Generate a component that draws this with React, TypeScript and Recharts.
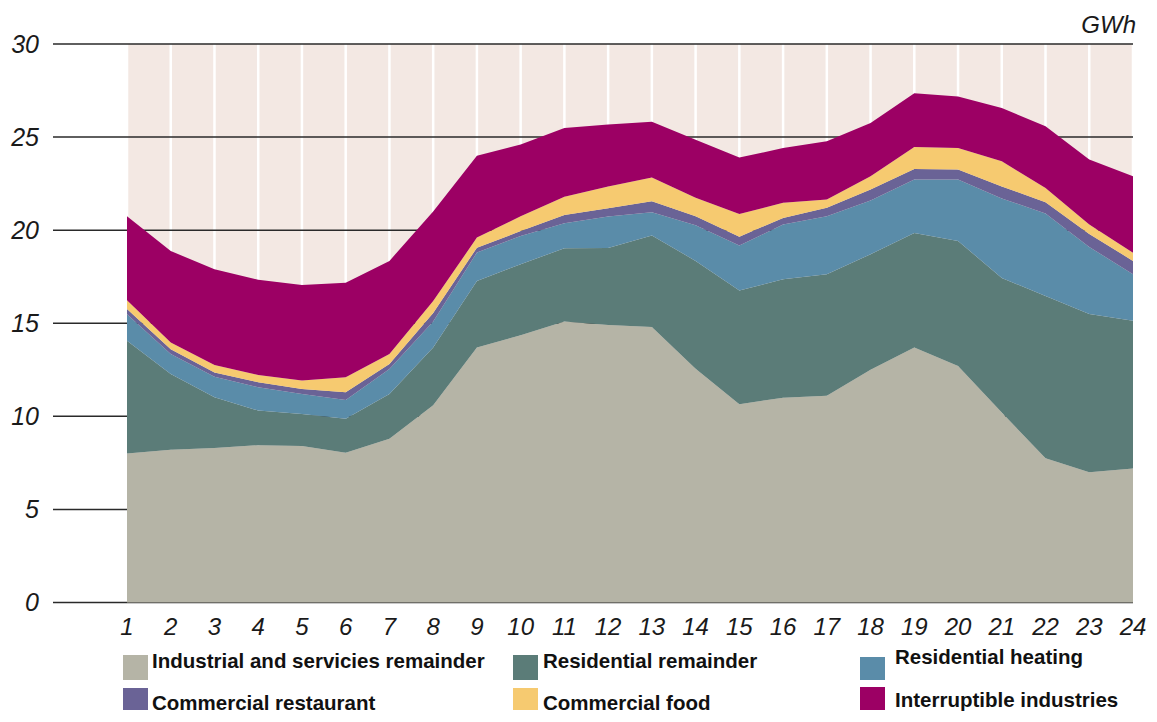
import React from 'react';
import { AreaChart, Area, XAxis, YAxis, CartesianGrid } from 'recharts';

const HOURS = [1, 2, 3, 4, 5, 6, 7, 8, 9, 10, 11, 12, 13, 14, 15, 16, 17, 18, 19, 20, 21, 22, 23, 24];
const Y_TICKS = [0, 5, 10, 15, 20, 25, 30];

const INDUSTRIAL = [8.0, 8.2, 8.3, 8.45, 8.4, 8.05, 8.8, 10.6, 13.7, 14.35, 15.1, 14.9, 14.8, 12.55, 10.65, 11.0, 11.1, 12.5, 13.7, 12.7, 10.2, 7.75, 7.0, 7.2];
const RES_REMAINDER = [6.06, 4.08, 2.72, 1.86, 1.73, 1.82, 2.4, 3.1, 3.57, 3.82, 3.93, 4.14, 4.91, 5.8, 6.11, 6.36, 6.53, 6.2, 6.15, 6.72, 7.23, 8.72, 8.5, 7.93];
const RES_HEATING = [1.43, 1.07, 1.11, 1.25, 1.07, 1.01, 1.34, 1.4, 1.53, 1.51, 1.34, 1.69, 1.25, 1.92, 2.41, 2.95, 3.12, 2.9, 2.87, 3.3, 4.27, 4.43, 3.6, 2.5];
const COM_RESTAURANT = [0.27, 0.26, 0.23, 0.27, 0.27, 0.41, 0.27, 0.45, 0.26, 0.27, 0.45, 0.45, 0.59, 0.48, 0.48, 0.35, 0.45, 0.58, 0.57, 0.54, 0.65, 0.6, 0.7, 0.72];
const COM_FOOD = [0.48, 0.36, 0.4, 0.39, 0.45, 0.81, 0.54, 0.65, 0.54, 0.8, 0.98, 1.16, 1.28, 0.99, 1.22, 0.81, 0.45, 0.72, 1.18, 1.15, 1.35, 0.77, 0.5, 0.44];
const INTERRUPTIBLE = [4.51, 4.91, 5.14, 5.11, 5.14, 5.08, 5.0, 4.8, 4.4, 3.85, 3.69, 3.34, 3.0, 3.12, 3.03, 2.94, 3.12, 2.85, 2.89, 2.77, 2.86, 3.31, 3.49, 4.11];

const SERIES = [
  { key: 'industrial', name: 'Industrial and servicies remainder', color: '#b5b4a6', values: INDUSTRIAL },
  { key: 'resRemainder', name: 'Residential remainder', color: '#5b7c78', values: RES_REMAINDER },
  { key: 'resHeating', name: 'Residential heating', color: '#5a8ca9', values: RES_HEATING },
  { key: 'comRestaurant', name: 'Commercial restaurant', color: '#6a6396', values: COM_RESTAURANT },
  { key: 'comFood', name: 'Commercial food', color: '#f6ca70', values: COM_FOOD },
  { key: 'interruptible', name: 'Interruptible industries', color: '#9c0064', values: INTERRUPTIBLE },
];

const data = HOURS.map((h, i) => {
  const row: Record<string, number> = { hour: h };
  SERIES.forEach((s) => {
    row[s.key] = s.values[i];
  });
  return row;
});

// legend layout: [seriesIndex, squareX, squareY, squareH, textX, textBaseline]
const LEGEND_LAYOUT = [
  [0, 115, 647, 25, 144, 660],
  [1, 505, 647, 25, 535, 660],
  [2, 852, 649, 23, 887, 656],
  [3, 115, 680, 22, 144, 702],
  [4, 505, 680, 22, 535, 702],
  [5, 852, 679, 23, 887, 699],
];

const FONT_AXIS = "'Liberation Sans', Arial, sans-serif";

export default function App() {
  return (
    <div style={{ position: 'relative', width: 1141, height: 706, fontFamily: FONT_AXIS }}>
      <AreaChart
        width={1141}
        height={640}
        data={data}
        margin={{ top: 36, right: 16, bottom: 0, left: 0 }}
      >
        <CartesianGrid
          horizontal={false}
          vertical={true}
          stroke="#ffffff"
          strokeWidth={2.5}
          fill="#f3e8e3"
          fillOpacity={1}
        />
        <CartesianGrid horizontal={true} vertical={false} stroke="#2a2a2a" strokeWidth={1.5} />
        <XAxis
          dataKey="hour"
          type="number"
          domain={[1, 24]}
          ticks={HOURS}
          interval={0}
          height={45.5}
          axisLine={false}
          tickLine={false}
          tickSize={0}
          tickMargin={15}
          tick={{ fill: '#1a1a1a', fontSize: 24, fontStyle: 'italic', fontFamily: FONT_AXIS }}
        />
        <YAxis
          type="number"
          domain={[0, 30]}
          ticks={Y_TICKS}
          interval={0}
          width={119}
          axisLine={false}
          tickSize={74}
          tickMargin={14}
          tickLine={{ stroke: '#2a2a2a', strokeWidth: 1.5 }}
          tick={{ fill: '#1a1a1a', fontSize: 25, fontStyle: 'italic', fontFamily: FONT_AXIS }}
        />
        {SERIES.map((s) => (
          <Area
            key={s.key}
            type="linear"
            dataKey={s.key}
            name={s.name}
            stackId="1"
            stroke="none"
            fill={s.color}
            fillOpacity={1}
            isAnimationActive={false}
            dot={false}
            activeDot={false}
          />
        ))}
      </AreaChart>
      <svg
        width={1141}
        height={706}
        style={{ position: 'absolute', left: 0, top: 0, pointerEvents: 'none' }}
      >
        <text
          x={1128}
          y={25}
          textAnchor="end"
          fontSize={24}
          fontStyle="italic"
          fontFamily={FONT_AXIS}
          fill="#1a1a1a"
        >
          GWh
        </text>
        {LEGEND_LAYOUT.map(([si, sx, sy, sh, tx, ty]) => (
          <g key={si}>
            <rect x={sx} y={sy} width={25} height={sh} fill={SERIES[si].color} />
            <text
              x={tx}
              y={ty}
              fontSize={20.5}
              fontWeight="bold"
              fontFamily={FONT_AXIS}
              fill="#111"
            >
              {SERIES[si].name}
            </text>
          </g>
        ))}
      </svg>
    </div>
  );
}
